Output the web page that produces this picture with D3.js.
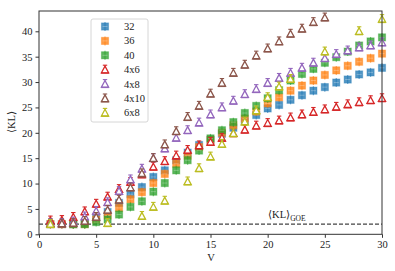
<!DOCTYPE html>
<html><head><meta charset="utf-8">
<script src="https://cdn.jsdelivr.net/npm/d3@7"></script>
<style>body{margin:0;background:#fff}svg{display:block}text{font-family:"Liberation Serif","DejaVu Serif",serif;fill:#222}</style>
</head><body><svg id="c" width="395" height="271"></svg>
<script>
const V = d3.range(1, 31);
const kl32 = [2.0,2.0,2.0,2.1,3.3,4.4,6.2,7.9,9.3,11.3,12.6,14.6,16.1,17.6,18.6,19.8,21.0,22.3,23.5,24.8,25.5,26.5,27.4,28.3,29.0,29.9,30.5,31.5,31.9,32.8];
const kl36 = [2.0,2.0,2.0,2.0,2.9,3.7,5.2,6.9,8.3,10.1,11.9,13.9,15.5,17.2,18.6,20.0,21.5,22.8,24.2,25.8,27.0,28.3,29.3,30.3,31.4,32.3,33.2,34.0,34.7,35.6];
const V40 = d3.range(3, 31);
const kl40 = [2.0,2.0,2.4,2.9,3.9,5.4,6.5,8.4,10.1,12.6,14.6,16.5,18.9,20.5,22.1,23.9,25.3,26.8,28.4,30.3,31.6,32.6,33.8,34.9,36.0,37.2,38.0,38.8];
const kl4x6 = [2.7,2.8,3.4,4.5,6.0,7.4,8.9,10.3,11.8,13.3,14.4,15.5,16.6,17.5,18.2,19.0,19.9,20.6,21.4,21.9,22.4,23.0,23.6,24.1,24.6,25.1,25.6,26.0,26.4,26.8];
const kl4x8 = [2.2,2.2,2.5,3.5,4.6,6.3,8.5,10.8,12.9,15.0,16.9,19.0,20.5,22.0,23.6,25.0,26.3,27.6,28.6,29.8,30.8,31.8,32.8,33.8,34.7,35.5,36.2,36.8,37.2,37.8];
const V4x10 = d3.range(1, 26);
const kl4x10 = [2.1,2.1,2.2,2.6,3.4,4.8,6.8,9.2,12.0,15.0,17.7,20.3,23.1,25.3,27.7,29.8,31.8,33.4,35.2,36.6,38.0,39.5,40.5,41.8,42.7];
const V6x8 = [1,6,9,10,11,13,14,15,16,17,18,19,20,21,22,25,28,30];
const kl6x8 = [2.0,2.2,3.6,5.4,6.6,10.4,13.0,15.3,17.8,19.9,22.2,24.4,27.0,29.1,30.6,36.0,40.0,42.4];
const klGOE = 2.0;
const xTicks = [0,5,10,15,20,25,30];
const yTicks = [0,5,10,15,20,25,30,35,40];
const labels = ["32","36","40","4x6","4x8","4x10","6x8"];
const colors = ["#1f77b4","#ff7f0e","#2ca02c","#d62728","#9467bd","#8c564b","#bcbd22"];

const series = [
  {x:V, y:kl32, sq:true}, {x:V, y:kl36, sq:true}, {x:V40, y:kl40, sq:true},
  {x:V, y:kl4x6, sq:false}, {x:V, y:kl4x8, sq:false}, {x:V4x10, y:kl4x10, sq:false}, {x:V6x8, y:kl6x8, sq:false}
];

const svg = d3.select("#c");
const L=39, R=382, T=11, B=234.3;
const x = d3.scaleLinear().domain([0,30]).range([L,R]);
const y = d3.scaleLinear().domain([0,44]).range([B,T]);

// GOE line
svg.append("line").attr("x1",L).attr("x2",R).attr("y1",y(klGOE)).attr("y2",y(klGOE))
  .attr("stroke","#444").attr("stroke-width",1.3).attr("stroke-dasharray","4,2");
const gl = svg.append("text").attr("x",268).attr("y",218).attr("font-size",10.5);
gl.append("tspan").text("⟨KL⟩");
gl.append("tspan").attr("font-size",7.5).attr("dy",2.5).text("GOE");

function marker(g, sq, c){
  if(sq){
    g.append("line").attr("x1",0).attr("x2",0).attr("y1",-4.5).attr("y2",4.5).attr("stroke",c).attr("stroke-opacity",0.6).attr("stroke-width",1.2);
    g.append("rect").attr("x",-3.6).attr("y",-3.6).attr("width",7.2).attr("height",7.2)
      .attr("fill",c).attr("fill-opacity",0.78).attr("stroke",c).attr("stroke-opacity",0.35).attr("stroke-width",1);
    g.append("line").attr("x1",-2.5).attr("x2",2.5).attr("y1",0).attr("y2",0).attr("stroke","#fff").attr("stroke-opacity",0.35).attr("stroke-width",0.8);
  } else {
    g.append("line").attr("x1",0).attr("x2",0).attr("y1",-4.5).attr("y2",3.2).attr("stroke",c).attr("stroke-width",1.1);
    g.append("line").attr("x1",-2.2).attr("x2",2.2).attr("y1",-4.5).attr("y2",-4.5).attr("stroke",c).attr("stroke-width",1.1);
    g.append("path").attr("d","M0,-3.6L3.6,3.1L-3.6,3.1Z").attr("fill","#fff").attr("stroke",c).attr("stroke-width",1.3).attr("stroke-linejoin","miter");
    g.append("line").attr("x1",-3.9).attr("x2",3.9).attr("y1",3.4).attr("y2",3.4).attr("stroke",c).attr("stroke-width",1.2);
  }
}

series.forEach((s,i)=>{
  const g = svg.append("g");
  s.x.forEach((v,j)=>{
    const m = g.append("g").attr("transform",`translate(${x(v)},${y(s.y[j])})`);
    marker(m, s.sq, colors[i]);
  });
});

// frame
svg.append("rect").attr("x",L).attr("y",T).attr("width",R-L).attr("height",B-T)
  .attr("fill","none").attr("stroke","#333").attr("stroke-width",1);

// axes
const xa = svg.append("g").attr("transform",`translate(0,${B})`)
  .call(d3.axisBottom(x).tickValues(xTicks).tickSize(3.5).tickPadding(3));
const ya = svg.append("g").attr("transform",`translate(${L},0)`)
  .call(d3.axisLeft(y).tickValues(yTicks).tickSize(3.5).tickPadding(3));
[xa,ya].forEach(a=>{
  a.select(".domain").remove();
  a.selectAll("line").attr("stroke","#333");
  a.selectAll("text").attr("font-size",10.5).attr("font-family","Liberation Serif, serif").attr("fill","#222");
});

svg.append("text").attr("x",211).attr("y",261).attr("text-anchor","middle").attr("font-size",10.5).text("V");
svg.append("text").attr("transform","translate(15,122) rotate(-90)").attr("text-anchor","middle").attr("font-size",10.5).text("⟨KL⟩");

// legend
const lg = svg.append("g");
lg.append("rect").attr("x",91).attr("y",19).attr("width",57).attr("height",103).attr("rx",2)
  .attr("fill","#fff").attr("fill-opacity",0.85).attr("stroke","#ccc").attr("stroke-width",0.8);
labels.forEach((l,i)=>{
  const yy = 26.5 + i*14.4;
  const m = lg.append("g").attr("transform",`translate(105,${yy})`);
  marker(m, series[i].sq, colors[i]);
  lg.append("text").attr("x",124).attr("y",yy+3.5).attr("font-size",10.5).text(l);
});
</script></body></html>
